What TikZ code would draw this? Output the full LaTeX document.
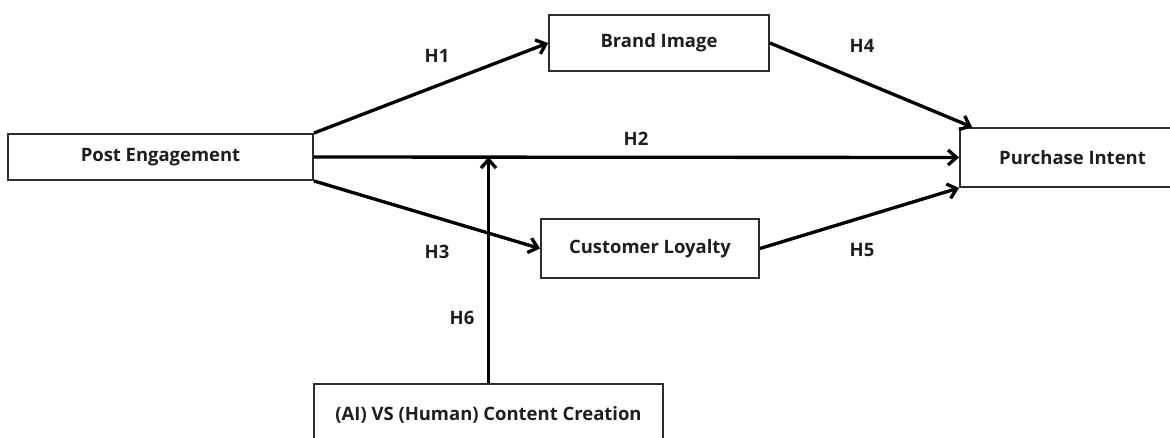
\documentclass[tikz,border=0pt]{standalone}
\usepackage{fontspec}
\setmainfont{Open Sans}
\usepackage{tikz}
\usetikzlibrary{arrows.meta,calc}
\definecolor{boxline}{RGB}{45,45,45}
\definecolor{labeltext}{RGB}{30,30,30}

\begin{document}
\begin{tikzpicture}[
    construct/.style={rectangle, draw=boxline, line width=1.1pt, fill=white, inner sep=0pt, text centered, font=\bfseries\fontsize{10.5}{12}\selectfont, text=labeltext},
    path/.style={line width=1.9pt, -{Straight Barb[length=1.7mm, width=3mm, line width=1.9pt]}},
    hyp/.style={font=\bfseries\fontsize{10.5}{12}\selectfont, text=labeltext}
]
    \useasboundingbox (0,0) rectangle (23.4,-8.74);
    \clip (0,0) rectangle (23.4,-8.74);

    \node[construct, minimum width=6.1cm, minimum height=0.92cm] (post) at (3.21,-3.14) {Post Engagement};
    \node[construct, minimum width=4.4cm, minimum height=1.12cm] (brand) at (13.18,-0.86) {Brand Image};
    \node[construct, minimum width=4.36cm, minimum height=1.18cm] (loyalty) at (13.0,-4.97) {Customer Loyalty};
    \node[construct, minimum width=4.5cm, minimum height=1.18cm] (intent) at (21.45,-3.15) {Purchase Intent};
    \node[construct, minimum width=6.98cm, minimum height=1.24cm] (creation) at (9.77,-8.3) {(AI) VS (Human) Content Creation};

    \draw[path] (post.north east) -- (brand.west);
    \draw[path] (post.east) -- (intent.west);
    \draw[path] (post.south east) -- (loyalty.west);
    \draw[path] (brand.east) -- ($(intent.north west)+(0.26,0)$);
    \draw[path] (loyalty.east) -- (intent.south west);
    \draw[path] (creation.north) -- (creation.north |- post.east);

    \node[hyp] (h1) at (8.74,-1.12) {H1};
    \node[hyp] (h2) at (12.72,-2.78) {H2};
    \node[hyp] (h3) at (8.74,-5.04) {H3};
    \node[hyp] (h4) at (17.24,-0.92) {H4};
    \node[hyp] (h5) at (17.24,-5.0) {H5};
    \node[hyp] (h6) at (9.24,-6.36) {H6};

\end{tikzpicture}
\end{document}
